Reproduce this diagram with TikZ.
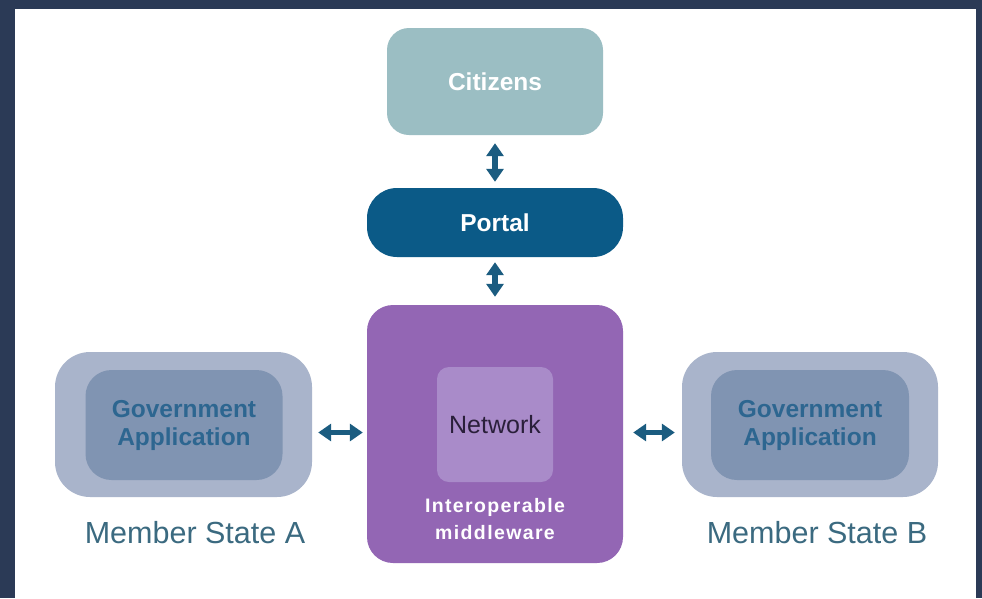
\documentclass[tikz,border=0pt]{standalone}
\usepackage{fontspec}
\setmainfont{Liberation Sans}
\usetikzlibrary{arrows.meta}
\definecolor{bgdark}{HTML}{2B3A56}
\definecolor{citc}{HTML}{9BBEC3}
\definecolor{portc}{HTML}{0B5A87}
\definecolor{arrc}{HTML}{1B5C80}
\definecolor{midc}{HTML}{9366B4}
\definecolor{netc}{HTML}{A98BC9}
\definecolor{outc}{HTML}{A9B4CB}
\definecolor{innc}{HTML}{8094B2}
\definecolor{govt}{HTML}{2D6690}
\definecolor{msc}{HTML}{3B6A80}
\definecolor{nett}{HTML}{2A1F3A}
\tikzset{
  box/.style={draw=none, inner sep=0pt, align=center},
  whitelbl/.style={text=white, font=\fontsize{24.5}{28}\selectfont\bfseries},
  govlbl/.style={text=govt, font=\fontsize{24.5}{28}\selectfont\bfseries},
  mslbl/.style={text=msc, font=\fontsize{30.5}{34}\selectfont, inner sep=0pt},
  dblarrow/.style={draw=arrc, line width=6pt, {Triangle[length=13pt,width=17pt]}-{Triangle[length=13pt,width=17pt]}},
}
\begin{document}
\begin{tikzpicture}[x=1pt,y=-1pt]
\useasboundingbox (0,0) rectangle (982,598);
\fill[bgdark] (0,0) rectangle (982,598);
\fill[white] (15,9) rectangle (976,598);

\node[box, fill=citc, rounded corners=22pt, minimum width=216pt, minimum height=107pt, whitelbl] (cit) at (495,81.5) {Citizens};
\node[box, fill=portc, rounded corners=30pt, minimum width=256pt, minimum height=69pt, whitelbl] (portal) at (495,222.5) {Portal};
\node[box, fill=midc, rounded corners=26pt, minimum width=256pt, minimum height=258pt] (mid) at (495,434) {};
\node[box, fill=netc, rounded corners=12pt, minimum width=116pt, minimum height=115pt, text=nett, font=\fontsize{25}{28}\selectfont] (net) at (495,424.5) {Network};
\node[box, text=white, font=\fontsize{19.5}{27}\selectfont\bfseries\addfontfeature{LetterSpace=7}] (midlbl) at (495,519.5) {Interoperable\\middleware};

\node[box, fill=outc, rounded corners=35pt, minimum width=257pt, minimum height=145pt] (outA) at (183.5,424.5) {};
\node[box, fill=innc, rounded corners=26pt, minimum width=197pt, minimum height=110pt, govlbl] (govA) at (184,425) {Government\\Application};
\node[mslbl] (msA) at (195,533) {Member State A};

\node[box, fill=outc, rounded corners=35pt, minimum width=256pt, minimum height=145pt] (outB) at (810,424.5) {};
\node[box, fill=innc, rounded corners=26pt, minimum width=198pt, minimum height=110pt, govlbl] (govB) at (810,425) {Government\\Application};
\node[mslbl] (msB) at (817,533) {Member State B};

\draw[dblarrow, shorten <=8pt, shorten >=6pt] (cit.south) -- (portal.north);
\draw[dblarrow, shorten <=5pt, shorten >=8pt] (portal.south) -- (mid.north);
\draw[dblarrow, line width=5.5pt, shorten <=6pt, shorten >=4pt] ([yshift=-8pt]outA.east) -- ([yshift=-8pt]outA.east -| mid.west);
\draw[dblarrow, line width=5.5pt, shorten <=10pt, shorten >=7pt] ([yshift=-8pt]outB.west -| mid.east) -- ([yshift=-8pt]outB.west);
\end{tikzpicture}
\end{document}
